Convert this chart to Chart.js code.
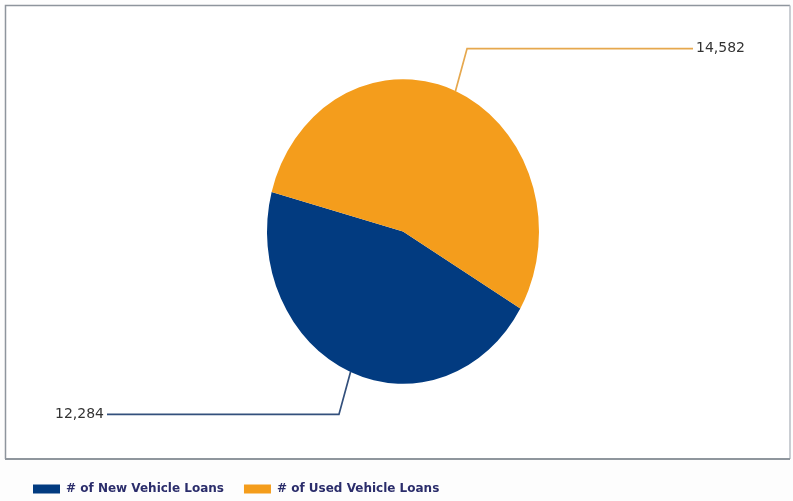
<!DOCTYPE html>
<html>
<head>
<meta charset="utf-8">
<script src="https://cdn.jsdelivr.net/npm/chart.js@4/dist/chart.umd.min.js"></script>
<style>
    html, body { margin: 0; padding: 0; background: #fdfdfd; }
    #wrap { width: 793px; height: 501px; position: relative; }
</style>
</head>
<body>
<div id="wrap"><canvas id="loanPie"></canvas></div>
<script>
// Chart data
const categories = ['# of New Vehicle Loans', '# of Used Vehicle Loans'];
const loanCounts = [12284, 14582];
const sliceColors = ['#023b80', '#f49d1c'];
const leaderColors = ['#33507c', '#e6a84e'];

const SQUASH = 1.12; // the pie in the picture is a bit taller than wide

// frame around the plot area
const framePlugin = {
    id: 'frame',
    beforeDraw(chart) {
        const ctx = chart.ctx;
        ctx.save();
        ctx.fillStyle = '#ffffff';
        ctx.fillRect(5, 5, 785, 454);
        ctx.lineWidth = 1.5;
        ctx.strokeStyle = '#8e959d';
        ctx.beginPath();
        ctx.moveTo(5.5, 459);
        ctx.lineTo(5.5, 5.5);
        ctx.lineTo(790, 5.5);
        ctx.stroke();
        ctx.strokeStyle = '#b9bec4';
        ctx.beginPath();
        ctx.moveTo(790, 5.5);
        ctx.lineTo(790, 459);
        ctx.stroke();
        ctx.lineWidth = 2;
        ctx.strokeStyle = '#8f969d';
        ctx.beginPath();
        ctx.moveTo(5, 459);
        ctx.lineTo(790, 459);
        ctx.stroke();
        ctx.restore();
    }
};

// stretch the pie vertically, then draw the leader lines + value labels
const ovalPlugin = {
    id: 'oval',
    beforeDatasetsDraw(chart) {
        const arc = chart.getDatasetMeta(0).data[0];
        const ctx = chart.ctx;
        ctx.save();
        ctx.translate(arc.x, arc.y);
        ctx.scale(1, SQUASH);
        ctx.translate(-arc.x, -arc.y);
    },
    afterDatasetsDraw(chart) {
        const ctx = chart.ctx;
        ctx.restore();

        const area = chart.chartArea;
        const meta = chart.getDatasetMeta(0);
        ctx.save();
        ctx.font = '14px "DejaVu Sans"';
        ctx.textBaseline = 'middle';
        meta.data.forEach((arc, i) => {
            const mid = (arc.startAngle + arc.endAngle) / 2;
            const r = arc.outerRadius;
            const cos = Math.cos(mid), sin = Math.sin(mid);
            const x0 = arc.x + cos * r;
            const y0 = arc.y + sin * r * SQUASH;
            const x1 = arc.x + cos * (r + 30);
            const y1 = arc.y + sin * (r + 41) * SQUASH;
            const right = cos >= 0;
            const x2 = right ? area.right - 100 : area.left + 94;

            ctx.strokeStyle = leaderColors[i];
            ctx.lineWidth = 1.7;
            ctx.beginPath();
            ctx.moveTo(x0, y0);
            ctx.lineTo(x1, y1);
            ctx.lineTo(x2, y1);
            ctx.stroke();

            ctx.fillStyle = '#333333';
            ctx.textAlign = right ? 'left' : 'right';
            ctx.fillText(loanCounts[i].toLocaleString('en-US'), right ? x2 + 3 : x2 - 3, y1);
        });
        ctx.restore();
    }
};

new Chart(document.getElementById('loanPie'), {
    type: 'pie',
    data: {
        labels: categories,
        datasets: [{
            data: loanCounts,
            backgroundColor: sliceColors,
            borderWidth: 0,
            radius: 136
        }]
    },
    options: {
        responsive: true,
        maintainAspectRatio: false,
        animation: false,
        rotation: 120.4,
        layout: {
            padding: { left: 13, right: 0, top: 0, bottom: -4 }
        },
        plugins: {
            legend: {
                position: 'bottom',
                align: 'start',
                labels: {
                    boxWidth: 27,
                    boxHeight: 9,
                    padding: 20,
                    color: '#2b2d6b',
                    font: { family: 'DejaVu Sans', size: 12, weight: 'bold' }
                }
            },
            tooltip: { enabled: false }
        }
    },
    plugins: [framePlugin, ovalPlugin]
});
</script>
</body>
</html>
